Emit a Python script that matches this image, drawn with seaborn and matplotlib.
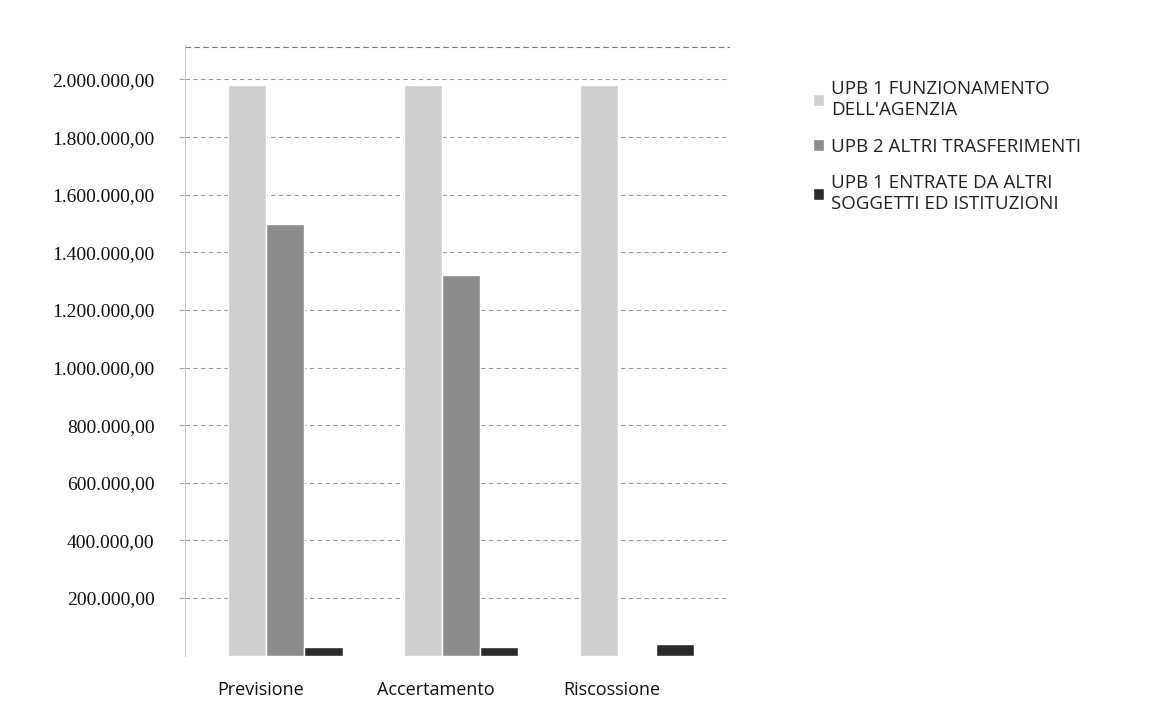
import pandas as pd
import matplotlib.pyplot as plt
import seaborn as sns
from matplotlib.ticker import FuncFormatter
from matplotlib.transforms import ScaledTranslation

sns.set_style("white")
plt.rcParams['font.family'] = ['Open Sans', 'DejaVu Sans']

categories = ['Previsione', 'Accertamento', 'Riscossione']
series_names = ["UPB 1 FUNZIONAMENTO\nDELL'AGENZIA",
                "UPB 2 ALTRI TRASFERIMENTI",
                "UPB 1 ENTRATE DA ALTRI\nSOGGETTI ED ISTITUZIONI"]
funzionamento = [1980000, 1980000, 1980000]
trasferimenti = [1500000, 1320000, 0]
altri_soggetti = [30000, 30000, 40000]
y_ticks = [200000, 400000, 600000, 800000, 1000000,
           1200000, 1400000, 1600000, 1800000, 2000000]

rows = []
for name, vals in zip(series_names, [funzionamento, trasferimenti, altri_soggetti]):
    for cat, v in zip(categories, vals):
        rows.append({'Categoria': cat, 'Serie': name, 'Valore': v})
df = pd.DataFrame(rows)

colors = ['#cfcfcf', '#8c8c8c', '#2a2a2a']

fig = plt.figure(figsize=(11.5, 7.02), dpi=100)
ax = fig.add_axes([0.161, 0.066, 0.474, 0.87])

sns.barplot(data=df, x='Categoria', y='Valore', hue='Serie', palette=colors,
            width=0.65, saturation=1, ax=ax, legend=True)

ax.set_ylim(0, 2120000)
ax.set_xlim(-0.57, 2.53)
ax.set_yticks(y_ticks)


def it_fmt(v, pos):
    s = f"{v:,.2f}"
    return s.replace(',', 'X').replace('.', ',').replace('X', '.')


ax.yaxis.set_major_formatter(FuncFormatter(it_fmt))
ax.set_xlabel("")
ax.set_ylabel("")
ax.tick_params(axis='x', labelsize=13, length=0, pad=18)
ax.tick_params(axis='y', length=4, color='#aaaaaa', left=True, pad=18)
for lbl in ax.get_yticklabels():
    lbl.set_family(['Liberation Serif', 'DejaVu Serif'])
    lbl.set_fontsize(14)
    lbl.set_color('#111111')
# category names sit a little left of the bar groups in the original
shift = ScaledTranslation(-25 / 100, 0, fig.dpi_scale_trans)
for lbl in ax.get_xticklabels():
    lbl.set_color('#111111')
    lbl.set_transform(lbl.get_transform() + shift)

for t in y_ticks:
    ax.axhline(t, color='#9a9a9a', lw=0.8, ls=(0, (4, 3)), zorder=0)
ax.axhline(2112000, color='#777777', lw=0.8, ls=(0, (5, 3)), zorder=0)

for side in ['top', 'right', 'bottom']:
    ax.spines[side].set_visible(False)
ax.spines['left'].set_color('#cccccc')

leg = ax.legend(loc='upper left', bbox_to_anchor=(1.12, 0.97), frameon=False,
                fontsize=13.5, labelspacing=1.0, handlelength=0.6,
                handleheight=0.6, handletextpad=0.4)
for txt in leg.get_texts():
    txt.set_color('#222222')

plt.savefig("out.png", dpi=100)
